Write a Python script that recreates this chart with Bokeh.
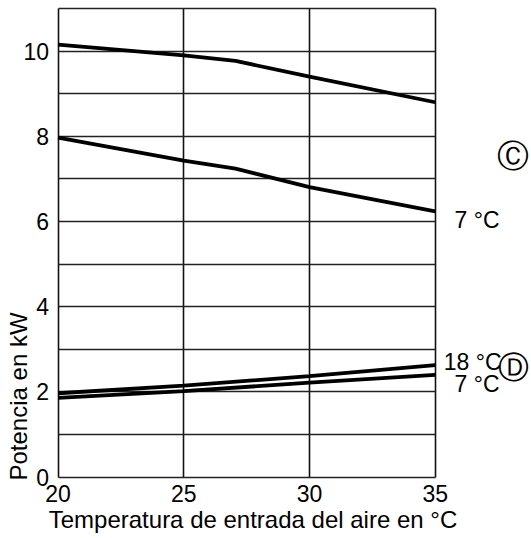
import math
from bokeh.plotting import figure
from bokeh.models import FixedTicker, Label, Range1d, LinearAxis, Grid
from bokeh.embed import file_html
from bokeh.resources import INLINE

# ---- data ----
temp_air = [20, 25, 27.06, 30, 35]
cooling_18 = [10.15, 9.90, 9.77, 9.40, 8.80]   # upper curve (C)
cooling_7 = [7.97, 7.43, 7.24, 6.81, 6.24]      # "7 °C" (C)
temp_air_low = [20, 25, 30, 35]
power_18 = [1.97, 2.15, 2.37, 2.63]             # "18 °C" (D)
power_7 = [1.86, 2.02, 2.22, 2.40]              # "7 °C" (D)

x_ticks = [20, 25, 30, 35]
y_ticks = [0, 2, 4, 6, 8, 10]
y_grid = list(range(0, 12))
X_MIN, X_MAX, Y_MIN, Y_MAX = 20, 35, 0, 11

x_title = "Temperatura de entrada del aire en °C"
y_title = "Potencia en kW"

FONT = "Liberation Sans"

# ---- layout (pixels in the canvas) ----
W, H = 531, 538
PX_LEFT, PX_RIGHT = 57.5, 434.7    # where x=20 and x=35 fall
PX_TOP, PX_BOTTOM = 8.0, 476.7     # where y=11 and y=0 fall
sx = (PX_RIGHT - PX_LEFT) / (X_MAX - X_MIN)
sy = (PX_BOTTOM - PX_TOP) / (Y_MAX - Y_MIN)
xr = Range1d(X_MIN - PX_LEFT / sx, X_MAX + (W - PX_RIGHT) / sx)
yr = Range1d(Y_MIN - (H - PX_BOTTOM) / sy, Y_MAX + PX_TOP / sy)

def xpx(px):   # canvas px -> data x
    return X_MIN + (px - PX_LEFT) / sx

def ypx(py):   # canvas px -> data y
    return Y_MIN + (PX_BOTTOM - py) / sy

p = figure(width=W, height=H, output_backend="svg", toolbar_location=None,
           x_range=xr, y_range=yr, x_axis_location=None, y_axis_location=None,
           min_border=0)
p.outline_line_color = None
p.background_fill_color = "white"
p.border_fill_color = "white"
p.xgrid.visible = False
p.ygrid.visible = False

# grid (also forms the box)
gprops = Grid.properties()
if "cross_bounds" in gprops:
    p.add_layout(Grid(dimension=0, ticker=FixedTicker(ticks=x_ticks), cross_bounds=(Y_MIN, Y_MAX),
                      grid_line_color="#111111", grid_line_width=1.6))
    p.add_layout(Grid(dimension=1, ticker=FixedTicker(ticks=y_grid), cross_bounds=(X_MIN, X_MAX),
                      grid_line_color="#222222", grid_line_width=1.4))
else:
    p.segment(x0=x_ticks, y0=[Y_MIN] * len(x_ticks), x1=x_ticks, y1=[Y_MAX] * len(x_ticks),
              line_color="#111111", line_width=1.6)
    p.segment(x0=[X_MIN] * len(y_grid), y0=y_grid, x1=[X_MAX] * len(y_grid), y1=y_grid,
              line_color="#222222", line_width=1.4)

# axes, fixed at the box edges
xaxis = LinearAxis(fixed_location=Y_MIN, bounds=(X_MIN, xpx(446.5)), ticker=FixedTicker(ticks=x_ticks),
                   axis_label=x_title)
yaxis = LinearAxis(fixed_location=X_MIN, bounds=(Y_MIN, Y_MAX), ticker=FixedTicker(ticks=y_ticks))
for ax in (xaxis, yaxis):
    ax.axis_line_color = None
    ax.major_tick_line_color = None
    ax.minor_tick_line_color = None
    ax.major_tick_out = 0
    ax.major_tick_in = 0
    ax.minor_tick_out = 0
    ax.minor_tick_in = 0
    ax.major_label_text_font = FONT
    ax.major_label_text_font_size = "23px"
    ax.major_label_text_color = "black"
yaxis.major_label_standoff = 9
xaxis.major_label_standoff = 8
xaxis.axis_label_text_font = FONT
xaxis.axis_label_text_font_size = "24px"
xaxis.axis_label_text_font_style = "normal"
xaxis.axis_label_text_color = "black"
xaxis.axis_label_standoff = 0
p.add_layout(xaxis, "below")
p.add_layout(yaxis, "left")

# curves
for ys in (cooling_18, cooling_7):
    p.line(temp_air, ys, line_color="black", line_width=3.8)
for ys in (power_18, power_7):
    p.line(temp_air_low, ys, line_color="black", line_width=3.8)

# labels
def lab(x, y, text, align="left", baseline="alphabetic", size="23px", font=FONT, angle=0):
    p.add_layout(Label(x=x, y=y, text=text, text_align=align, text_baseline=baseline,
                       text_font=font, text_font_size=size, text_color="black", angle=angle))

lab(xpx(499), ypx(219.3), "7 °C", align="right")
lab(xpx(443.3), ypx(361.7), "18 °C")
lab(xpx(499), ypx(383), "7 °C", align="right")
lab(xpx(512), ypx(155), "Ⓒ", align="center", baseline="middle", size="32px", font="DejaVu Sans")
lab(xpx(513), ypx(366.7), "Ⓓ", align="center", baseline="middle", size="31px", font="DejaVu Sans")
lab(xpx(18), ypx(480), y_title, align="left", size="24px", angle=math.pi / 2)

open("out.html", "w").write(file_html(p, INLINE))
